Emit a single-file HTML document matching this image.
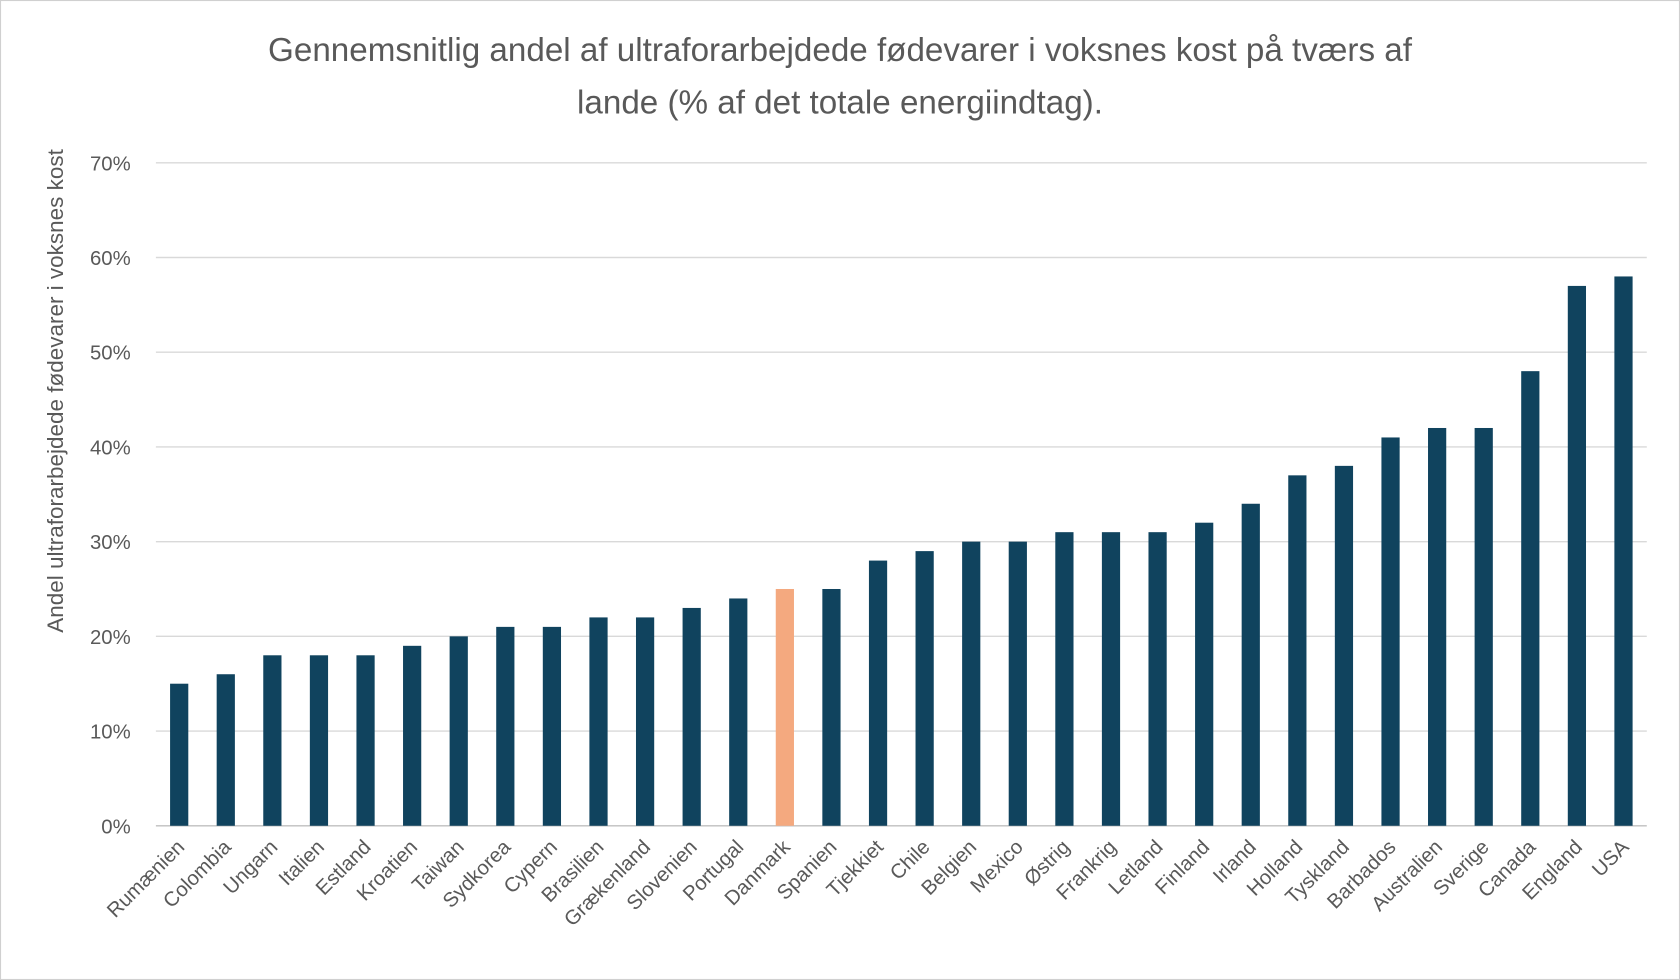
<!DOCTYPE html>
<html><head><meta charset="utf-8"><style>
html,body{margin:0;padding:0;background:#fff;}
svg{display:block;font-family:"Liberation Sans",sans-serif;}
</style></head><body>
<svg id="chart" width="1680" height="980" viewBox="0 0 1568 915" preserveAspectRatio="none">
<rect x="0.5" y="0.5" width="1567" height="914" fill="#fff" stroke="#d0d0d0"/>
<text x="784" y="57" text-anchor="middle" font-size="31" fill="#595959">Gennemsnitlig andel af ultraforarbejdede fødevarer i voksnes kost på tværs af</text>
<text x="784" y="106" text-anchor="middle" font-size="31" fill="#595959">lande (% af det totale energiindtag).</text>
<text transform="translate(59,365) rotate(-90)" text-anchor="middle" font-size="21" fill="#595959">Andel ultraforarbejdede fødevarer i voksnes kost</text>
<g id="grid"></g><g id="bars"></g><g id="xlabels"></g>
</svg>
<script>
const categories=["Rumænien","Colombia","Ungarn","Italien","Estland","Kroatien","Taiwan","Sydkorea","Cypern","Brasilien","Grækenland","Slovenien","Portugal","Danmark","Spanien","Tjekkiet","Chile","Belgien","Mexico","Østrig","Frankrig","Letland","Finland","Irland","Holland","Tyskland","Barbados","Australien","Sverige","Canada","England","USA"];
const values=[15,16,18,18,18,19,20,21,21,22,22,23,24,25,25,28,29,30,30,31,31,31,32,34,37,38,41,42,42,48,57,58];
const highlight=["Danmark"];
const yTicks=[0,10,20,30,40,50,60,70];
const NS="http://www.w3.org/2000/svg";
const x0=145.5,x1=1537,y0=771,yTop=152;
const band=(x1-x0)/categories.length;
const y=v=>y0-(v/70)*(y0-yTop);
const xc=i=>x0+band*(i+0.5);
const grid=document.getElementById('grid'),bars=document.getElementById('bars'),xl=document.getElementById('xlabels');
yTicks.forEach(t=>{
 const l=document.createElementNS(NS,'line');
 
 
 l.setAttribute('x1',x0);l.setAttribute('x2',x1);l.setAttribute('y1',y(t));l.setAttribute('y2',y(t));
 l.setAttribute('stroke',t===0?'#bfbfbf':'#d9d9d9');l.setAttribute('stroke-width',1.3);
 grid.appendChild(l);
 const tx=document.createElementNS(NS,'text');
 
 
 tx.setAttribute('x',122);tx.setAttribute('y',y(t)+7);tx.setAttribute('text-anchor','end');
 tx.setAttribute('font-size','19');tx.setAttribute('fill','#595959');tx.textContent=t+'%';
 grid.appendChild(tx);
});
categories.forEach((c,i)=>{
 const r=document.createElementNS(NS,'rect');
 
 
 const w=17;
 r.setAttribute('x',xc(i)-w/2);r.setAttribute('width',w);
 r.setAttribute('y',y(values[i]));r.setAttribute('height',y0-y(values[i]));
 r.setAttribute('fill',highlight.includes(c)?'#f4a97f':'#10435e');
 bars.appendChild(r);
 const t=document.createElementNS(NS,'text');
 
 
 const lx=xc(i)+6,ly=792;
 t.setAttribute('transform','translate('+lx+','+ly+') rotate(-45)');
 t.setAttribute('text-anchor','end');t.setAttribute('font-size','19');t.setAttribute('fill','#595959');
 t.textContent=c;xl.appendChild(t);
});
</script>
</body></html>
